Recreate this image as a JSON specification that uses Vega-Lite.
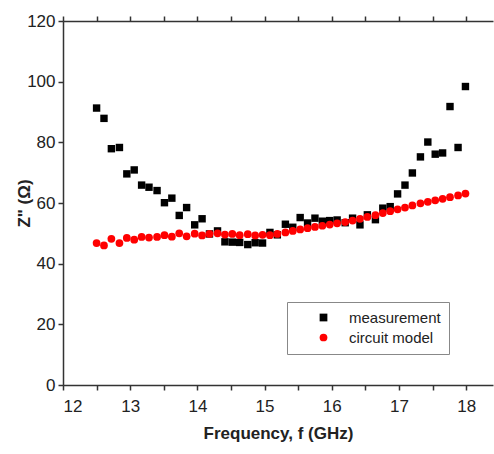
{
  "$schema": "https://vega.github.io/schema/vega-lite/v6.json",
  "autosize": {"type": "none"},
  "padding": {"left": 63, "top": 21, "right": 1, "bottom": 69},
  "width": 430,
  "height": 364,
  "background": "white",
  "config": {
    "view": {"stroke": null},
    "font": "Liberation Sans",
    "axis": {
      "domainColor": "#333333",
      "domainWidth": 1.5,
      "tickColor": "#333333",
      "tickWidth": 1.5,
      "grid": false,
      "labelFont": "Liberation Sans",
      "labelFontSize": 17,
      "labelColor": "#222222",
      "titleFont": "Liberation Sans",
      "titleFontSize": 17,
      "titleFontWeight": "bold",
      "titleColor": "#222222"
    }
  },
  "datasets": {
    "pts": [
      {"f": 12.50, "z": 91.3, "series": "measurement"},
      {"f": 12.61, "z": 87.9, "series": "measurement"},
      {"f": 12.72, "z": 77.9, "series": "measurement"},
      {"f": 12.84, "z": 78.3, "series": "measurement"},
      {"f": 12.95, "z": 69.6, "series": "measurement"},
      {"f": 13.06, "z": 70.9, "series": "measurement"},
      {"f": 13.17, "z": 65.9, "series": "measurement"},
      {"f": 13.28, "z": 65.2, "series": "measurement"},
      {"f": 13.40, "z": 64.1, "series": "measurement"},
      {"f": 13.51, "z": 60.1, "series": "measurement"},
      {"f": 13.62, "z": 61.6, "series": "measurement"},
      {"f": 13.73, "z": 55.9, "series": "measurement"},
      {"f": 13.84, "z": 58.5, "series": "measurement"},
      {"f": 13.96, "z": 52.8, "series": "measurement"},
      {"f": 14.07, "z": 54.8, "series": "measurement"},
      {"f": 14.18, "z": 49.8, "series": "measurement"},
      {"f": 14.30, "z": 50.8, "series": "measurement"},
      {"f": 14.41, "z": 47.2, "series": "measurement"},
      {"f": 14.52, "z": 47.1, "series": "measurement"},
      {"f": 14.63, "z": 47.0, "series": "measurement"},
      {"f": 14.75, "z": 46.3, "series": "measurement"},
      {"f": 14.86, "z": 46.9, "series": "measurement"},
      {"f": 14.97, "z": 46.8, "series": "measurement"},
      {"f": 15.08, "z": 50.3, "series": "measurement"},
      {"f": 15.19, "z": 49.5, "series": "measurement"},
      {"f": 15.31, "z": 53.0, "series": "measurement"},
      {"f": 15.42, "z": 52.0, "series": "measurement"},
      {"f": 15.53, "z": 55.2, "series": "measurement"},
      {"f": 15.64, "z": 53.4, "series": "measurement"},
      {"f": 15.75, "z": 55.0, "series": "measurement"},
      {"f": 15.86, "z": 54.0, "series": "measurement"},
      {"f": 15.97, "z": 54.2, "series": "measurement"},
      {"f": 16.08, "z": 54.4, "series": "measurement"},
      {"f": 16.20, "z": 53.5, "series": "measurement"},
      {"f": 16.31, "z": 55.0, "series": "measurement"},
      {"f": 16.42, "z": 52.8, "series": "measurement"},
      {"f": 16.53, "z": 56.1, "series": "measurement"},
      {"f": 16.65, "z": 54.5, "series": "measurement"},
      {"f": 16.76, "z": 58.3, "series": "measurement"},
      {"f": 16.87, "z": 58.8, "series": "measurement"},
      {"f": 16.98, "z": 63.0, "series": "measurement"},
      {"f": 17.09, "z": 65.9, "series": "measurement"},
      {"f": 17.20, "z": 69.9, "series": "measurement"},
      {"f": 17.32, "z": 75.2, "series": "measurement"},
      {"f": 17.43, "z": 80.1, "series": "measurement"},
      {"f": 17.54, "z": 76.1, "series": "measurement"},
      {"f": 17.65, "z": 76.5, "series": "measurement"},
      {"f": 17.76, "z": 91.8, "series": "measurement"},
      {"f": 17.88, "z": 78.3, "series": "measurement"},
      {"f": 17.99, "z": 98.4, "series": "measurement"},
      {"f": 12.50, "z": 46.8, "series": "circuit model"},
      {"f": 12.61, "z": 46.0, "series": "circuit model"},
      {"f": 12.72, "z": 48.2, "series": "circuit model"},
      {"f": 12.84, "z": 46.8, "series": "circuit model"},
      {"f": 12.95, "z": 48.5, "series": "circuit model"},
      {"f": 13.06, "z": 47.9, "series": "circuit model"},
      {"f": 13.17, "z": 48.8, "series": "circuit model"},
      {"f": 13.28, "z": 48.6, "series": "circuit model"},
      {"f": 13.40, "z": 48.8, "series": "circuit model"},
      {"f": 13.51, "z": 49.4, "series": "circuit model"},
      {"f": 13.62, "z": 48.9, "series": "circuit model"},
      {"f": 13.73, "z": 50.0, "series": "circuit model"},
      {"f": 13.84, "z": 49.0, "series": "circuit model"},
      {"f": 13.96, "z": 49.9, "series": "circuit model"},
      {"f": 14.07, "z": 49.3, "series": "circuit model"},
      {"f": 14.18, "z": 49.8, "series": "circuit model"},
      {"f": 14.30, "z": 50.0, "series": "circuit model"},
      {"f": 14.41, "z": 49.6, "series": "circuit model"},
      {"f": 14.52, "z": 49.8, "series": "circuit model"},
      {"f": 14.63, "z": 49.4, "series": "circuit model"},
      {"f": 14.75, "z": 49.7, "series": "circuit model"},
      {"f": 14.86, "z": 49.3, "series": "circuit model"},
      {"f": 14.97, "z": 49.5, "series": "circuit model"},
      {"f": 15.08, "z": 49.4, "series": "circuit model"},
      {"f": 15.19, "z": 49.8, "series": "circuit model"},
      {"f": 15.31, "z": 50.3, "series": "circuit model"},
      {"f": 15.42, "z": 50.8, "series": "circuit model"},
      {"f": 15.53, "z": 51.3, "series": "circuit model"},
      {"f": 15.64, "z": 51.7, "series": "circuit model"},
      {"f": 15.75, "z": 52.1, "series": "circuit model"},
      {"f": 15.86, "z": 52.5, "series": "circuit model"},
      {"f": 15.97, "z": 52.9, "series": "circuit model"},
      {"f": 16.08, "z": 53.3, "series": "circuit model"},
      {"f": 16.20, "z": 53.7, "series": "circuit model"},
      {"f": 16.31, "z": 54.2, "series": "circuit model"},
      {"f": 16.42, "z": 54.8, "series": "circuit model"},
      {"f": 16.53, "z": 55.4, "series": "circuit model"},
      {"f": 16.65, "z": 56.0, "series": "circuit model"},
      {"f": 16.76, "z": 56.7, "series": "circuit model"},
      {"f": 16.87, "z": 57.3, "series": "circuit model"},
      {"f": 16.98, "z": 57.9, "series": "circuit model"},
      {"f": 17.09, "z": 58.5, "series": "circuit model"},
      {"f": 17.20, "z": 59.2, "series": "circuit model"},
      {"f": 17.32, "z": 59.9, "series": "circuit model"},
      {"f": 17.43, "z": 60.4, "series": "circuit model"},
      {"f": 17.54, "z": 60.9, "series": "circuit model"},
      {"f": 17.65, "z": 61.4, "series": "circuit model"},
      {"f": 17.76, "z": 61.9, "series": "circuit model"},
      {"f": 17.88, "z": 62.5, "series": "circuit model"},
      {"f": 17.99, "z": 63.1, "series": "circuit model"}
    ]
  },
  "data": {"name": "pts"},
  "layer": [
    {
      "transform": [{"filter": "datum.series === 'measurement'"}],
      "mark": {"type": "point", "filled": true, "opacity": 1, "size": 55},
      "encoding": {
        "x": {
          "field": "f", "type": "quantitative",
          "scale": {"domain": [12, 18.4], "nice": false, "zero": false},
          "axis": {
            "orient": "bottom",
            "title": "Frequency, f (GHz)",
            "values": [12, 12.5, 13, 13.5, 14, 14.5, 15, 15.5, 16, 16.5, 17, 17.5, 18],
            "labelExpr": "datum.value % 1 === 0 ? format(datum.value, 'd') : ''",
            "tickSize": 5,
            "labelPadding": 8,
            "titlePadding": 11,
            "encode": {"ticks": {"update": {"y2": {"value": -5}}}}
          }
        },
        "y": {
          "field": "z", "type": "quantitative",
          "scale": {"domain": [0, 120], "nice": false},
          "axis": {
            "title": "Z\" (Ω)",
            "values": [0, 10, 20, 30, 40, 50, 60, 70, 80, 90, 100, 110, 120],
            "labelExpr": "datum.value % 20 === 0 ? datum.label : ''",
            "tickSize": 5,
            "labelPadding": 3,
            "titlePadding": -7,
            "encode": {"ticks": {"update": {"x2": {"value": 5}}}}
          }
        },
        "color": {
          "field": "series", "type": "nominal",
          "scale": {"domain": ["measurement", "circuit model"], "range": ["#000000", "#ff0000"]},
          "legend": {
            "title": null,
            "orient": "none",
            "legendX": 224,
            "legendY": 281,
            "padding": 8,
            "symbolOffset": 21,
            "labelOffset": 18,
            "labelFont": "Liberation Sans",
            "labelFontSize": 15,
            "labelColor": "#222222",
            "symbolSize": 60,
            "rowPadding": 4,
            "strokeColor": "#888888",
            "fillColor": "white",
            "labelLimit": 300
          }
        },
        "shape": {
          "field": "series", "type": "nominal",
          "scale": {"domain": ["measurement", "circuit model"], "range": ["square", "circle"]},
          "legend": null
        }
      }
    },
    {
      "transform": [{"filter": "datum.series === 'circuit model'"}],
      "mark": {"type": "point", "filled": true, "opacity": 1, "size": 60},
      "encoding": {
        "x": {
          "field": "f", "type": "quantitative",
          "axis": {
            "orient": "top",
            "title": null,
            "labels": false,
            "values": [12, 12.5, 13, 13.5, 14, 14.5, 15, 15.5, 16, 16.5, 17, 17.5, 18],
            "tickSize": 5,
            "encode": {"ticks": {"update": {"y2": {"value": 5}}}}
          }
        },
        "y": {"field": "z", "type": "quantitative"},
        "color": {"field": "series", "type": "nominal"},
        "shape": {"field": "series", "type": "nominal"}
      }
    }
  ],
  "resolve": {"axis": {"x": "independent"}}
}
